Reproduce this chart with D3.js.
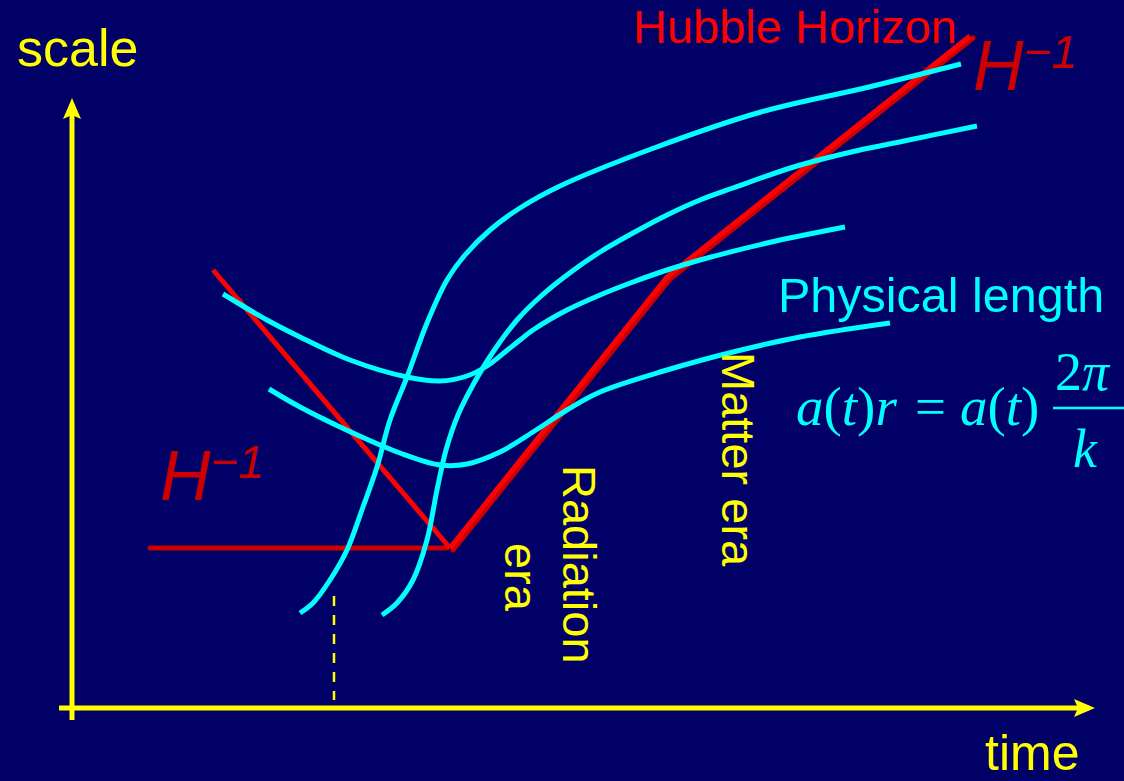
<!DOCTYPE html>
<html>
<head>
<meta charset="utf-8">
<script src="https://cdn.jsdelivr.net/npm/d3@7"></script>
<style>
  html, body { margin: 0; padding: 0; background: #000066; }
  svg { display: block; }
</style>
</head>
<body>
<svg id="chart" width="1124" height="781"></svg>
<script>
// ---- data (units: time t, scale s; origin at the axes' crossing) ----
const curveA = [[228,95],[241,105],[258,128],[275,158],[291,201],[305,241],[318,288],[335,331],[355,385],[375,428],[393,453],[418,478],[448,500],[488,522],[582,560],[689,596],[797,621],[889,644]];
const curveB = [[310,93],[325,105],[341,128],[355,168],[365,218],[374,258],[386,293],[401,323],[421,356],[445,388],[468,411],[495,433],[528,456],[561,475],[595,493],[628,508],[661,520],[725,542],[788,558],[832,567],[905,582]];
const curveC = [[151,414],[195,388],[228,371],[278,348],[335,331],[368,327],[395,332],[415,342],[433,356],[448,368],[461,378],[495,398],[528,413],[561,426],[595,438],[628,448],[695,465],[773,481]];
const curveD = [[197,319],[228,301],[281,275],[328,255],[368,243],[395,244],[428,256],[461,276],[495,298],[528,316],[595,338],[661,356],[728,371],[818,385]];
const horizonFall = [[141,438],[378,160]];
const horizonFlat = [[78,160],[375,160]];
const horizonRise = [[378,160],[595,431],[898,672]];
const dashedMark = [[262,112],[262,8]];
const axisX = [-13, 1023];
const axisY = [-12, 610];

const svg = d3.select("#chart");
const W = 1124, H = 781;
svg.append("rect").attr("width", W).attr("height", H).attr("fill", "#000066");

const x = d3.scaleLinear().domain([0, 1020]).range([72, 1092]);
const y = d3.scaleLinear().domain([0, 610]).range([708, 98]);

const YEL = "#ffff00", CYAN = "#00ffff", RED = "#ff0000", DRED = "#cc0000";

// axes
svg.append("line").attr("x1", x(axisX[0])).attr("x2", x(axisX[1]) - 6)
  .attr("y1", y(0)).attr("y2", y(0)).attr("stroke", YEL).attr("stroke-width", 5);
svg.append("line").attr("x1", x(0)).attr("x2", x(0))
  .attr("y1", y(axisY[0])).attr("y2", y(axisY[1]) + 6).attr("stroke", YEL).attr("stroke-width", 5);
// arrowheads
const ax = x(axisX[1]), ay = y(0);
svg.append("path").attr("d", `M${ax},${ay} L${ax-21},${ay-9} L${ax-17},${ay} L${ax-21},${ay+9} Z`).attr("fill", YEL);
const bx = x(0), by = y(axisY[1]);
svg.append("path").attr("d", `M${bx},${by} L${bx-9},${by+21} L${bx},${by+17} L${bx+9},${by+21} Z`).attr("fill", YEL);

// dashed marker
svg.append("line").attr("x1", x(dashedMark[0][0])).attr("x2", x(dashedMark[1][0]))
  .attr("y1", y(dashedMark[0][1])).attr("y2", y(dashedMark[1][1]))
  .attr("stroke", YEL).attr("stroke-width", 2.5).attr("stroke-dasharray", "10,9");

const lineCurve = d3.line().x(d => x(d[0])).y(d => y(d[1])).curve(d3.curveCatmullRom.alpha(0.5));
const lineStraight = d3.line().x(d => x(d[0])).y(d => y(d[1]));

// red horizon
svg.append("path").attr("d", lineStraight(horizonFlat)).attr("fill", "none")
  .attr("stroke", DRED).attr("stroke-width", 5).attr("stroke-linecap", "round");
svg.append("path").attr("d", lineStraight(horizonRise)).attr("fill", "none")
  .attr("stroke", DRED).attr("stroke-width", 5).attr("stroke-linecap", "round")
  .attr("stroke-linejoin", "round").attr("transform", "translate(3,2)");
svg.append("path").attr("d", lineStraight(horizonRise)).attr("fill", "none")
  .attr("stroke", RED).attr("stroke-width", 5).attr("stroke-linejoin", "round");
svg.append("path").attr("d", lineStraight(horizonFall)).attr("fill", "none")
  .attr("stroke", RED).attr("stroke-width", 5).attr("stroke-linejoin", "round");

// cyan physical lengths
[curveA, curveB, curveC, curveD].forEach(c => {
  svg.append("path").attr("d", lineCurve(c)).attr("fill", "none")
    .attr("stroke", CYAN).attr("stroke-width", 5);
});

// texts
const SANS = "'Liberation Sans', Arial, sans-serif";
const SERIF = "'Liberation Serif', 'Times New Roman', serif";
function txt(s, px, py, size, color, opts = {}) {
  const t = svg.append("text").attr("x", px).attr("y", py).text(s)
    .attr("font-family", opts.family || SANS).attr("font-size", size).attr("fill", color);
  if (opts.italic) t.attr("font-style", "italic");
  if (opts.rotate) t.attr("x", null).attr("y", null).attr("transform", `translate(${px},${py}) rotate(90)`);
  return t;
}
txt("scale", 17, 66, 52, YEL);
txt("time", 985, 770, 50, YEL);
txt("Hubble Horizon", 633, 43, 47, RED);
txt("Physical length", 778, 312, 48.5, CYAN);
txt("Matter era", 722, 352, 47, YEL, {rotate: true});
txt("Radiation", 563, 465, 47, YEL, {rotate: true});
txt("era", 505, 543, 47, YEL, {rotate: true});

function hinv(px, py) {
  const t = svg.append("text").attr("x", px).attr("y", py)
    .attr("font-family", SANS).attr("font-style", "italic").attr("fill", DRED).attr("font-size", 70);
  t.append("tspan").text("H");
  t.append("tspan").attr("font-size", 47).attr("dy", -22).text("\u22121");
}
hinv(160, 500);
hinv(973, 90);

// formula
function ftxt(parts, px, py, size) {
  const t = svg.append("text").attr("x", px).attr("y", py)
    .attr("font-family", SERIF).attr("font-size", size).attr("fill", CYAN);
  parts.forEach(p => t.append("tspan").attr("font-style", p[1] ? "italic" : "normal").text(p[0]));
}
ftxt([["a",1],["(",0],["t",1],[")",0],["r",1]], 796, 425, 55);
ftxt([["=",0]], 915, 425, 55);
ftxt([["a",1],["(",0],["t",1],[")",0]], 960, 425, 55);
svg.append("line").attr("x1", 1053).attr("x2", 1124).attr("y1", 408).attr("y2", 408)
  .attr("stroke", CYAN).attr("stroke-width", 2.5);
ftxt([["2",0],["\u03c0",1]], 1055, 390, 54);
ftxt([["k",1]], 1073, 467, 54);
</script>
</body>
</html>
